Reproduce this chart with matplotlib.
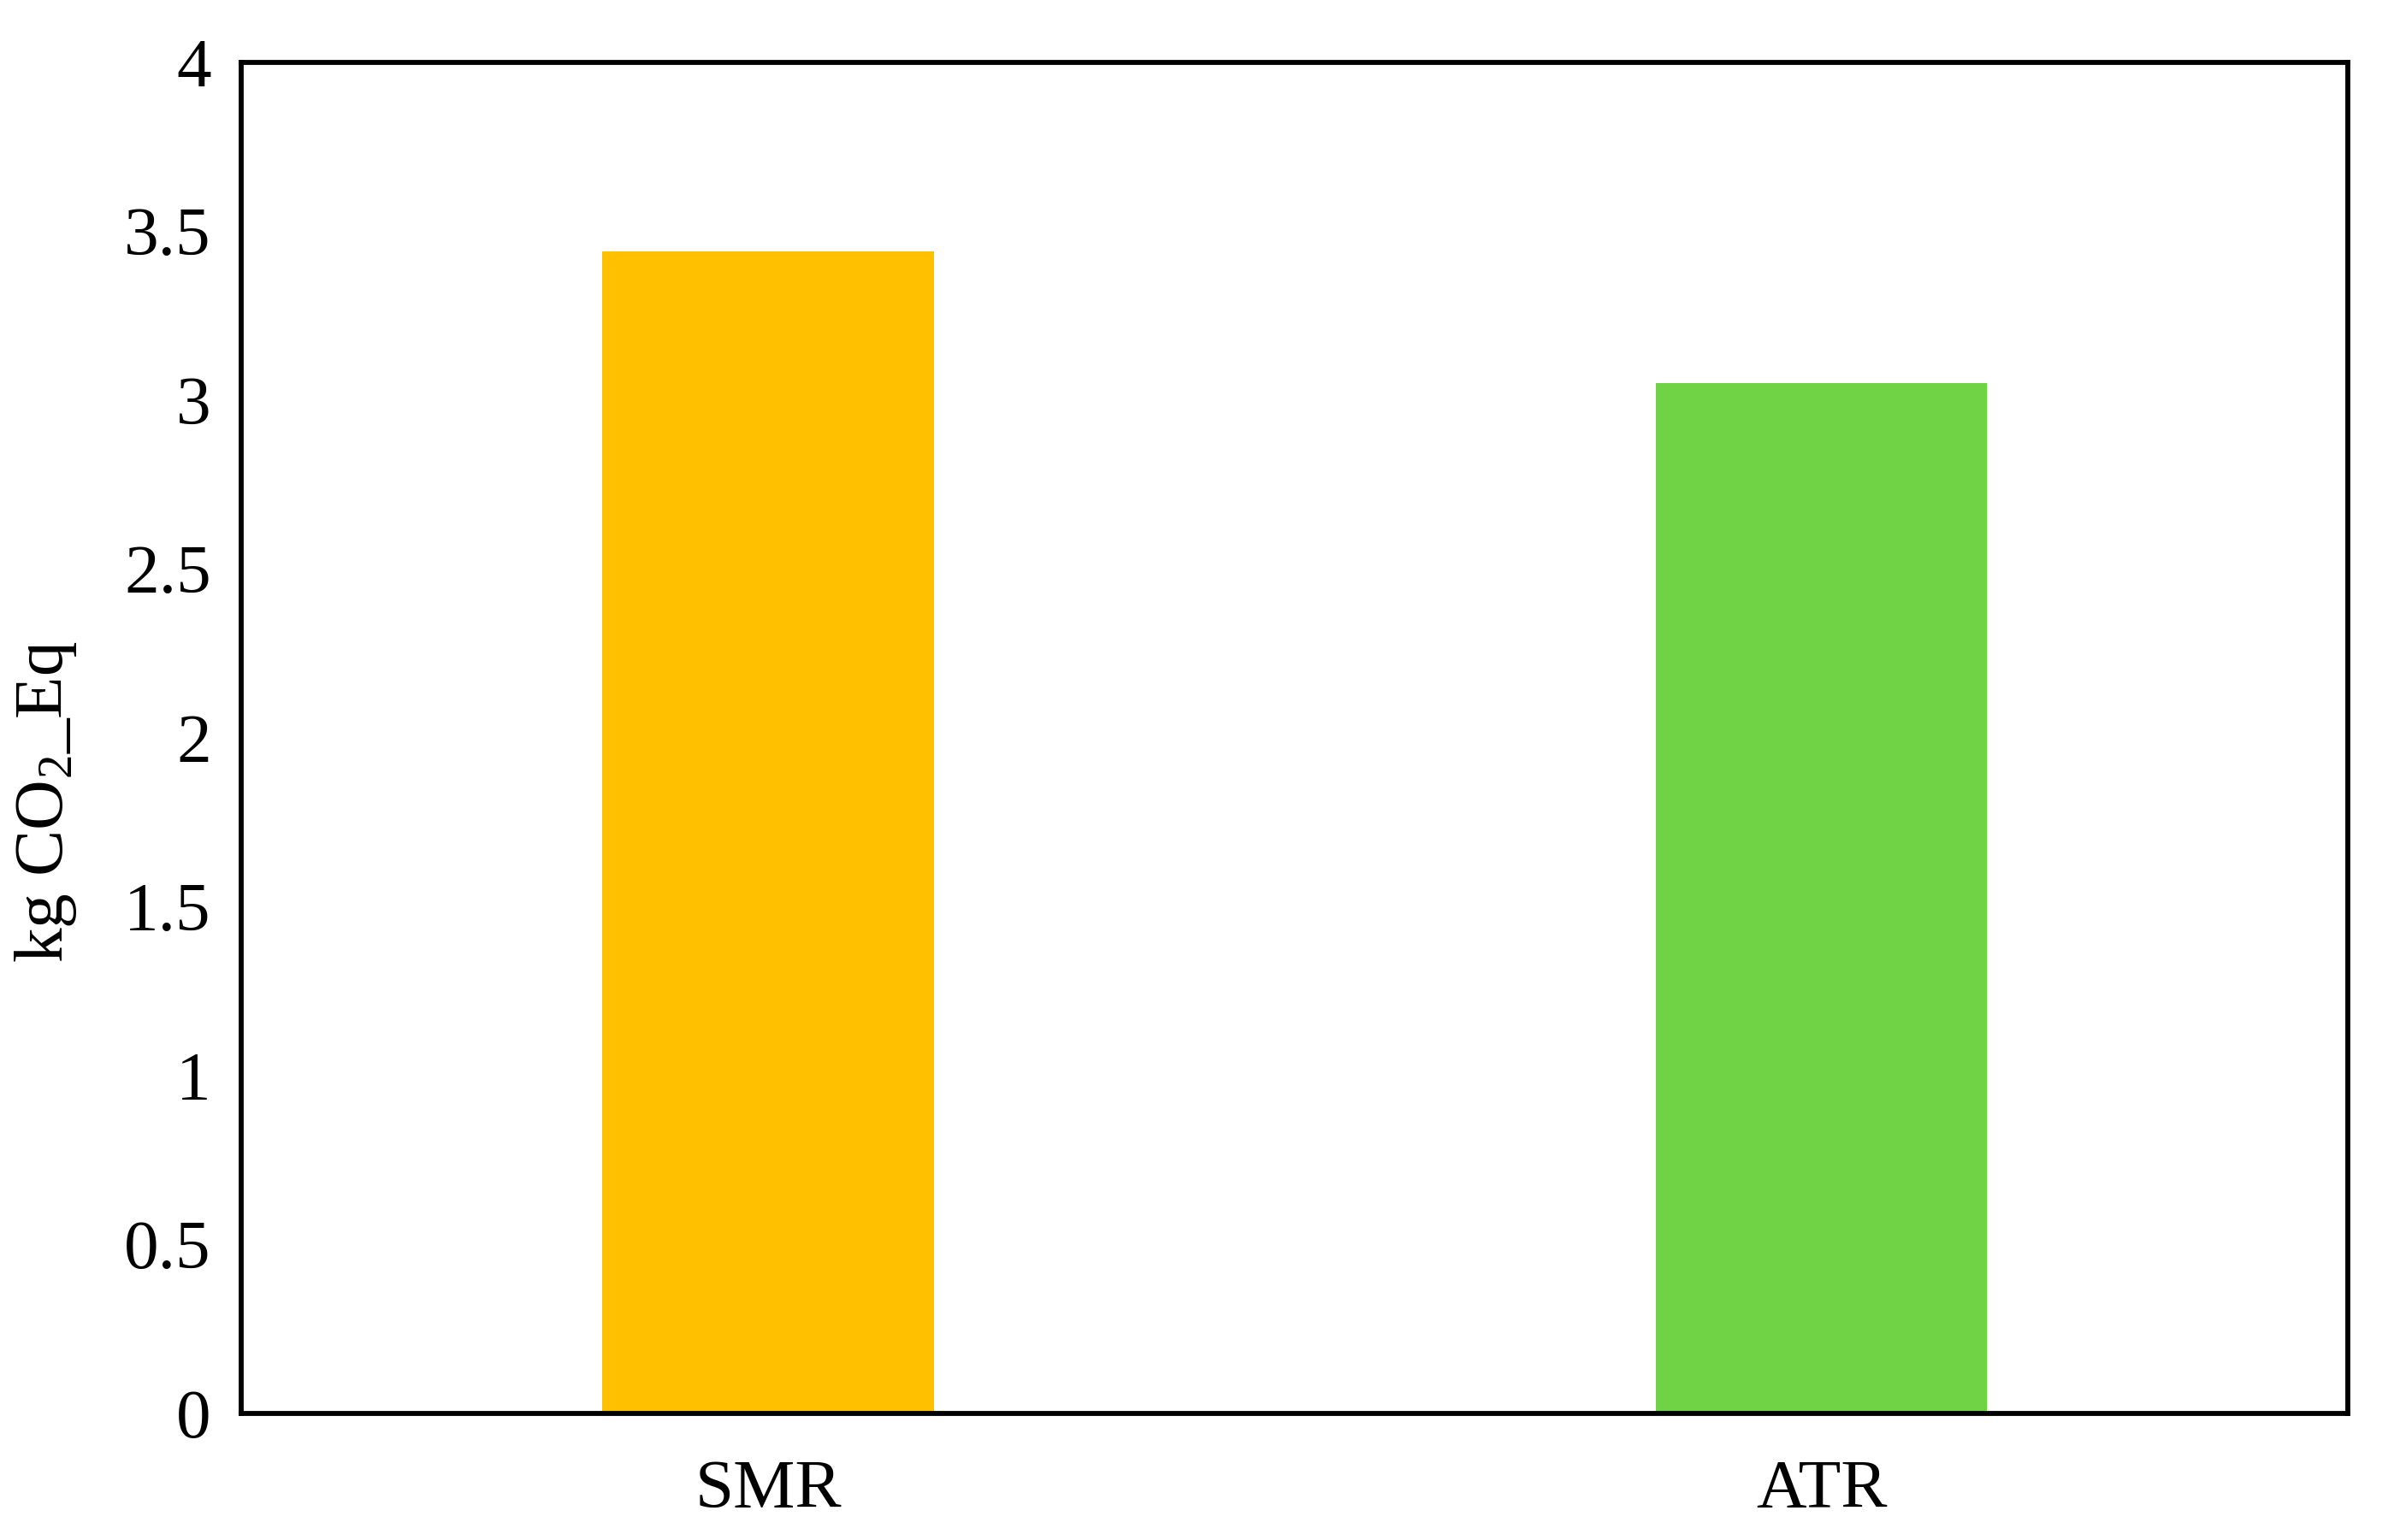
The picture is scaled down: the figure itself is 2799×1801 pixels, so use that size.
import matplotlib
matplotlib.use('Agg')
import matplotlib.pyplot as plt

plt.rcParams['font.family'] = ['Liberation Serif', 'DejaVu Serif']
plt.rcParams['mathtext.fontset'] = 'custom'
plt.rcParams['mathtext.rm'] = 'Liberation Serif'
plt.rcParams['mathtext.it'] = 'Liberation Serif:italic'

# Data
processes = ['SMR', 'ATR']
emissions = [3.44, 3.05]
bar_colors = ['#FFC000', '#70D245']
y_ticks = [0, 0.5, 1, 1.5, 2, 2.5, 3, 3.5, 4]

fig = plt.figure(figsize=(2799 / 300, 1801 / 300), dpi=300)
ax = fig.add_axes([0.1008, 0.0822, 0.8800, 0.8773])

x = range(len(processes))
ax.bar(x, emissions, width=0.315, color=bar_colors, zorder=2)

ax.set_xlim(-0.5, len(processes) - 0.5)
ax.set_ylim(0, 4)
ax.set_xticks(list(x))
ax.set_xticklabels(processes)
ax.set_yticks(y_ticks)
ax.set_yticklabels([f'{t:g}' for t in y_ticks])

ax.tick_params(axis='both', length=0, labelsize=19.5)
ax.tick_params(axis='y', pad=8.5)
ax.tick_params(axis='x', pad=13)

for s in ax.spines.values():
    s.set_linewidth(1.4)
    s.set_color('black')

ax.set_ylabel('kg CO$_2$_Eq', fontsize=19.5)
ax.yaxis.set_label_coords(-0.077, 0.453)

plt.savefig('out.png', dpi=300)
